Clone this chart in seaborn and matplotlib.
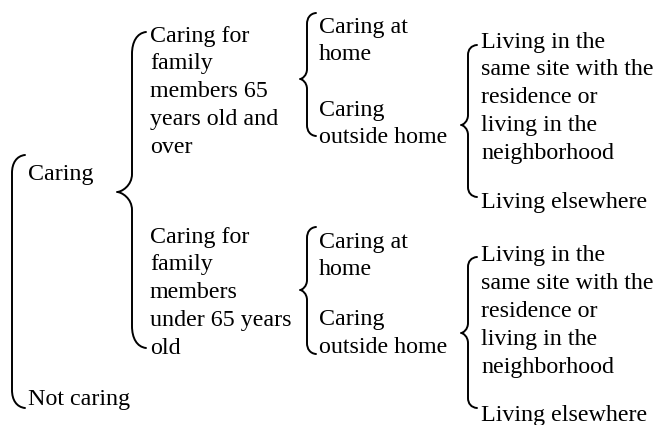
import matplotlib
matplotlib.use("Agg")
import matplotlib.pyplot as plt
from matplotlib.path import Path
from matplotlib.patches import PathPatch
import seaborn as sns

# ---- labels (data) ----
root_labels = ["Caring", "Not caring"]
age_labels = [
    ["Caring for", "family", "members 65", "years old and", "over"],
    ["Caring for", "family", "members", "under 65 years", "old"],
]
place_labels = [["Caring at", "home"], ["Caring", "outside home"]]
residence_labels = [
    ["Living in the", "same site with the", "residence or", "living in the", "neighborhood"],
    ["Living elsewhere"],
]

# ---- layout (pixel coordinates) ----
W, H = 657, 425
FS = 17.3
LS = 27.8          # line spacing (px)
BASE = 7.5         # baseline offset from visual line centre

sns.set_theme(style="white")
plt.rcParams["font.family"] = ["Liberation Serif", "DejaVu Serif"]

fig = plt.figure(figsize=(W / 100, H / 100), dpi=100)
ax = fig.add_axes([0, 0, 1, 1])
ax.set_xlim(0, W)
ax.set_ylim(H, 0)
ax.axis("off")


def lines(x, y0, texts, spacing=LS):
    for i, t in enumerate(texts):
        ax.text(x, y0 + i * spacing + BASE, t, fontsize=FS, va="baseline",
                ha="left", color="black")


def brace(x_end, y_top, y_bot, x_vert, x_tip=None, y_mid=None, r=10, rm=8, lw=1.4):
    verts, codes = [], []
    dx = x_end - x_vert
    # top hook: from tip (pointing up-right) down into the vertical stem
    verts += [(x_end, y_top), (x_vert + dx * 0.35, y_top + r * 0.05),
              (x_vert, y_top + r * 0.45), (x_vert, y_top + r)]
    codes += [Path.MOVETO, Path.CURVE4, Path.CURVE4, Path.CURVE4]
    if x_tip is not None:
        verts += [(x_vert, y_mid - rm), (x_vert, y_mid - rm * 0.35),
                  (x_tip + (x_vert - x_tip) * 0.3, y_mid), (x_tip, y_mid),
                  (x_tip + (x_vert - x_tip) * 0.3, y_mid),
                  (x_vert, y_mid + rm * 0.35), (x_vert, y_mid + rm)]
        codes += [Path.LINETO, Path.CURVE4, Path.CURVE4, Path.CURVE4,
                  Path.CURVE4, Path.CURVE4, Path.CURVE4]
    verts += [(x_vert, y_bot - r), (x_vert, y_bot - r * 0.45),
              (x_vert + dx * 0.35, y_bot - r * 0.05), (x_end, y_bot)]
    codes += [Path.LINETO, Path.CURVE4, Path.CURVE4, Path.CURVE4]
    ax.add_patch(PathPatch(Path(verts, codes), fill=False, lw=lw,
                           edgecolor="black", capstyle="round", joinstyle="round"))


# level 1
brace(25, 155, 408, 12, r=18)
lines(28, 172, [root_labels[0]])
lines(28, 397, [root_labels[1]])

# level 2
brace(146, 32, 348, 132, x_tip=117, y_mid=192, r=22, rm=18)
lines(150, 34, age_labels[0])
lines(150, 235, age_labels[1])

# level 3 (two groups)
for (yt, yb, ym, y1, y2) in [(13, 136, 79, 25, 108), (227, 354, 290, 240, 318)]:
    brace(316, yt, yb, 307, x_tip=300, y_mid=ym, r=11, rm=10)
    lines(319, y1, place_labels[0])
    lines(319, y2, place_labels[1])

# level 4 (two groups)
for (yt, yb, ym, y1, y2) in [(45, 197, 125, 40, 200), (257, 408, 333, 254, 413)]:
    brace(477, yt, yb, 468, x_tip=461, y_mid=ym, r=10, rm=10)
    lines(481, y1, residence_labels[0])
    lines(481, y2, residence_labels[1])

fig.savefig("out.png", dpi=100, facecolor="white")
